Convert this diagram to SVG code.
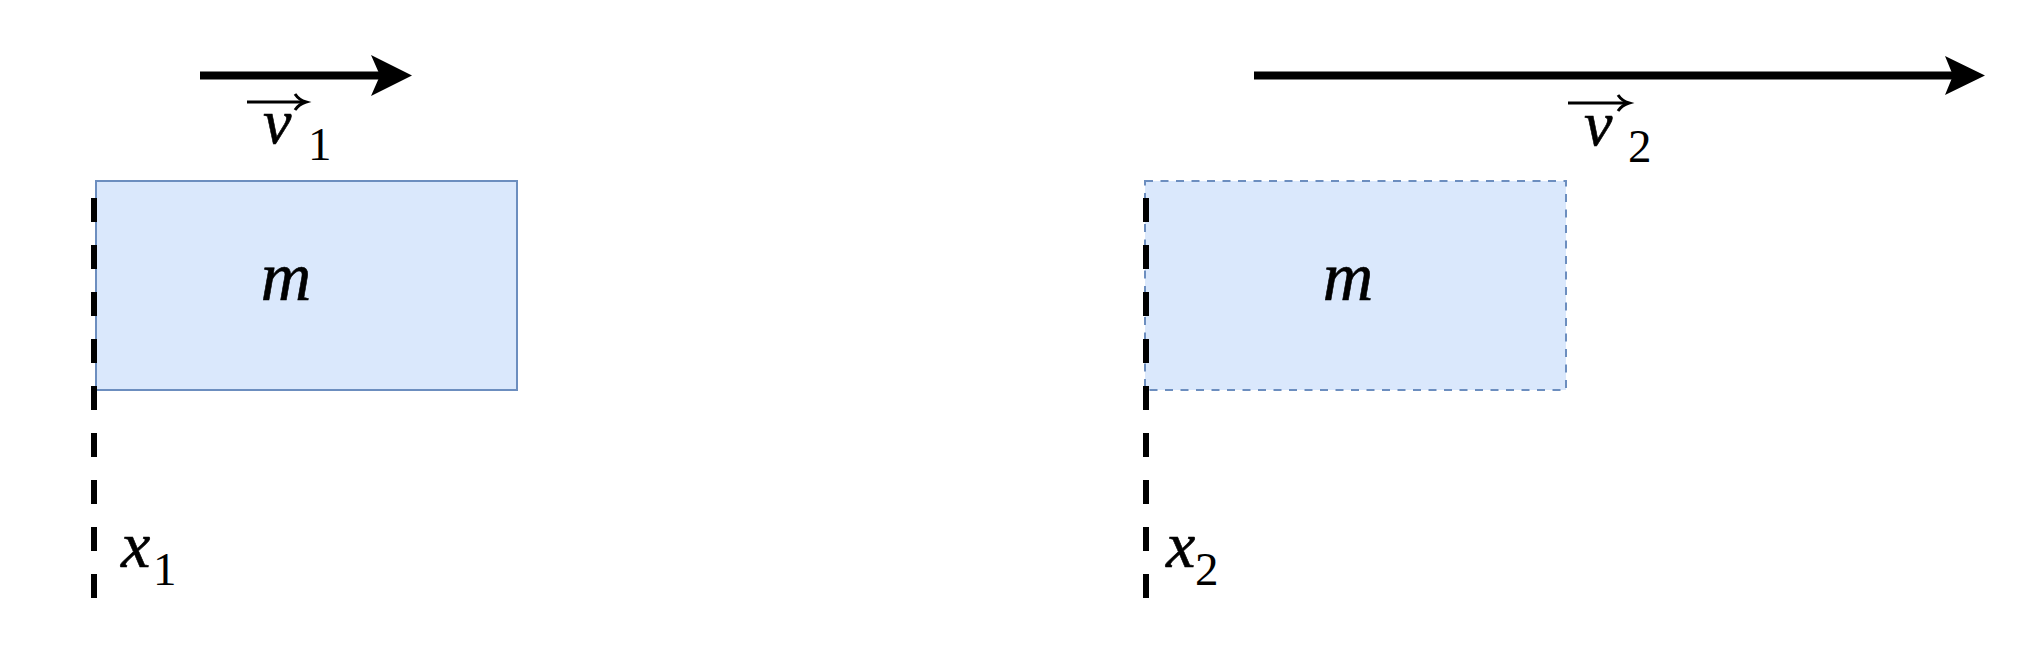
<svg xmlns="http://www.w3.org/2000/svg" width="2022" height="648" viewBox="0 0 2022 648">
<style>
.box{fill:#dae8fc;stroke:#6c8ebf;stroke-width:2}
.dash{stroke-dasharray:8 7.5}
.guide{stroke:#000;stroke-width:6;stroke-dasharray:24 23;fill:none}
.arr{stroke:#000;stroke-width:8;fill:none}
.vec{stroke:#000;stroke-width:3;fill:none}
text{font-family:'Liberation Serif','Times New Roman',Times,serif;fill:#000}
.mi{font-style:italic;stroke:#000;stroke-width:0.6}
.sub{font-size:47px}
</style>
<rect width="2022" height="648" fill="#fff"/>
<g id="mass1">
<rect class="box" x="96" y="181" width="421" height="209"/>
<text class="mi" x="286" y="300" font-size="70" text-anchor="middle">m</text>
</g>
<g id="mass2">
<rect class="box dash" x="1145" y="181" width="421" height="209"/>
<text class="mi" x="1348" y="300" font-size="70" text-anchor="middle">m</text>
</g>
<g id="connectors">
<line class="guide" x1="94" y1="198" x2="94" y2="600"/>
<line class="guide" x1="1146" y1="198" x2="1146" y2="600"/>
<line class="arr" x1="200" y1="75.5" x2="382" y2="75.5"/>
<path d="M371,55 L412,75.5 L371,96 L380,75.5 Z" fill="#000"/>
<line class="arr" x1="1254" y1="75.5" x2="1956" y2="75.5"/>
<path d="M1945,56 L1985,75.5 L1945,95 L1953,75.5 Z" fill="#000"/>
</g>
<g id="label-v1">
<line class="vec" x1="247" y1="102" x2="304" y2="102"/>
<path d="M295,94 Q299,100 306,102 Q299,104 295,110" class="vec"/>
<text class="mi" x="263" y="143" font-size="64">v</text>
<text class="sub" x="308" y="160">1</text>
</g>
<g id="label-v2">
<line class="vec" x1="1568" y1="103" x2="1627" y2="103"/>
<path d="M1618,95 Q1622,101 1629,103 Q1622,105 1618,111" class="vec"/>
<text class="mi" x="1584" y="145" font-size="64">v</text>
<text class="sub" x="1628" y="162">2</text>
</g>
<g id="label-x1">
<text class="mi" x="121" y="567" font-size="66">x</text>
<text class="sub" x="153" y="585">1</text>
</g>
<g id="label-x2">
<text class="mi" x="1166" y="567" font-size="66">x</text>
<text class="sub" x="1195" y="585">2</text>
</g>
</svg>
